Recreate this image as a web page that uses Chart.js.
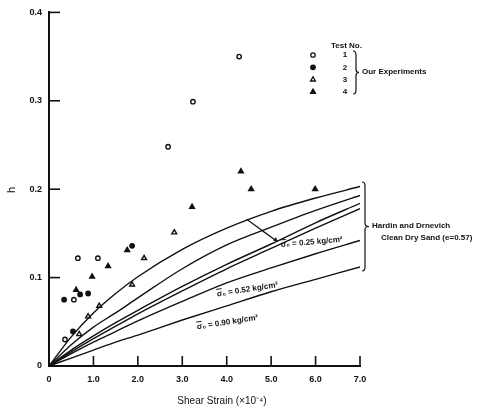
<!DOCTYPE html>
<html>
<head>
<meta charset="utf-8">
<script src="https://cdn.jsdelivr.net/npm/chart.js@4.4.0/dist/chart.umd.min.js"></script>
<style>
    html, body {
        margin: 0;
        padding: 0;
        background: #fff;
    }
</style>
</head>
<body>
<canvas id="dampingChart" width="486" height="408"></canvas>
<script>

    // axis ticks
    const strainTicks = [0, 1, 2, 3, 4, 5, 6, 7];
    const strainTickLabels = ["0", "1.0", "2.0", "3.0", "4.0", "5.0", "6.0", "7.0"];
    const dampingTicks = [0, 0.1, 0.2, 0.3, 0.4];
    const dampingTickLabels = ["0", "0.1", "0.2", "0.3", "0.4"];

    // our experiments, test no. 1 - 4
    const test1Strain = [0.36, 0.56, 0.65, 1.10, 2.68, 3.24, 4.28];
    const test1Damping = [0.030, 0.075, 0.122, 0.122, 0.248, 0.299, 0.350];

    const test2Strain = [0.34, 0.54, 0.70, 0.88, 1.87];
    const test2Damping = [0.075, 0.039, 0.081, 0.082, 0.136];

    const test3Strain = [0.68, 0.88, 1.13, 1.87, 2.14, 2.82];
    const test3Damping = [0.036, 0.056, 0.068, 0.092, 0.122, 0.151];

    const test4Strain = [0.61, 0.97, 1.33, 1.76, 3.22, 4.32, 4.55, 5.99];
    const test4Damping = [0.086, 0.101, 0.113, 0.131, 0.180, 0.220, 0.200, 0.200];

    // Hardin and Drnevich, clean dry sand (e = 0.57)
    const curveStrain = [0, 0.5, 1, 1.5, 2, 3, 4, 5, 6, 7];
    const hdCurve1 = [0, 0.033, 0.060, 0.082, 0.101, 0.132, 0.156, 0.175, 0.190, 0.203];
    const hdCurve2 = [0, 0.024, 0.044, 0.060, 0.077, 0.110, 0.137, 0.157, 0.176, 0.193];
    const hdCurve3 = [0, 0.018, 0.034, 0.049, 0.063, 0.090, 0.115, 0.138, 0.162, 0.184];
    const hdCurve4 = [0, 0.016, 0.031, 0.045, 0.059, 0.085, 0.110, 0.133, 0.156, 0.178];
    const hdCurve5 = [0, 0.014, 0.027, 0.039, 0.051, 0.073, 0.094, 0.111, 0.127, 0.142];
    const hdCurve6 = [0, 0.009, 0.018, 0.027, 0.035, 0.052, 0.068, 0.084, 0.098, 0.112];

    const ink = "#111";
    const noteFont = "bold 8px 'Liberation Sans', Arial, sans-serif";

    function toPoints(xs, ys) {
        return xs.map((x, i) => ({ x: x, y: ys[i] }));
    }

    function markerSet(xs, ys, style, filled, radius) {
        return {
            type: "scatter",
            data: toPoints(xs, ys),
            pointStyle: style,
            pointRadius: radius,
            pointBorderWidth: 1.4,
            pointBorderColor: ink,
            pointBackgroundColor: filled ? ink : "#fff",
            showLine: false
        };
    }

    function curveSet(ys) {
        return {
            type: "line",
            data: toPoints(curveStrain, ys),
            borderColor: ink,
            borderWidth: 1.4,
            pointRadius: 0,
            cubicInterpolationMode: "monotone",
            fill: false
        };
    }

    function brace(ctx, x, top, bottom, tip) {
        const mid = (top + bottom) / 2;
        ctx.beginPath();
        ctx.moveTo(x - 3, top);
        ctx.quadraticCurveTo(x, top, x, top + 4);
        ctx.lineTo(x, mid - 3);
        ctx.quadraticCurveTo(x, mid, x + tip, mid);
        ctx.quadraticCurveTo(x, mid, x, mid + 3);
        ctx.lineTo(x, bottom - 4);
        ctx.quadraticCurveTo(x, bottom, x - 3, bottom);
        ctx.stroke();
    }

    // pressure note: sigma with an overbar, then the value
    function pressureNote(ctx, value, x, y, angle) {
        const text = "σ₀ = " + value + " kg/cm²";
        const barWidth = ctx.measureText("σ").width;
        ctx.save();
        ctx.translate(x, y);
        ctx.rotate(angle * Math.PI / 180);
        ctx.fillText(text, 0, 0);
        ctx.lineWidth = 0.9;
        ctx.beginPath();
        ctx.moveTo(0, -5);
        ctx.lineTo(barWidth, -5);
        ctx.stroke();
        ctx.restore();
    }

    // inward ticks, axis titles, legend and curve notes
    const annotations = {
        id: "annotations",
        afterDraw(chart) {
            const ctx = chart.ctx;
            const xs = chart.scales.x;
            const ys = chart.scales.y;
            const area = chart.chartArea;

            ctx.save();
            ctx.strokeStyle = ink;
            ctx.fillStyle = ink;
            ctx.lineWidth = 1.6;

            strainTicks.forEach(v => {
                const px = xs.getPixelForValue(v);
                ctx.beginPath();
                ctx.moveTo(px, area.bottom);
                ctx.lineTo(px, area.bottom - 10);
                ctx.stroke();
            });

            dampingTicks.forEach(v => {
                const py = ys.getPixelForValue(v);
                ctx.beginPath();
                ctx.moveTo(area.left, py);
                ctx.lineTo(area.left + 11, py);
                ctx.stroke();
            });

            // axis titles
            ctx.font = "10px 'Liberation Sans', Arial, sans-serif";
            ctx.textAlign = "center";
            ctx.textBaseline = "middle";
            ctx.fillText("Shear Strain (×10⁻⁴)", 222, 401);

            ctx.save();
            ctx.translate(12, 190);
            ctx.rotate(-Math.PI / 2);
            ctx.font = "11px 'Liberation Sans', Arial, sans-serif";
            ctx.fillText("h", 0, 0);
            ctx.restore();

            // legend
            ctx.font = noteFont;
            ctx.textAlign = "left";
            ctx.fillText("Test No.", 331, 46);

            const legendRows = [
                ["circle", false, 2.2, "1"],
                ["circle", true, 2.2, "2"],
                ["triangle", false, 2.8, "3"],
                ["triangle", true, 2.8, "4"]
            ];

            legendRows.forEach((row, i) => {
                const py = 55 + i * 12.3;
                ctx.fillStyle = row[1] ? ink : "#fff";
                ctx.lineWidth = 1.3;
                Chart.helpers.drawPoint(ctx, {
                    pointStyle: row[0],
                    radius: row[2],
                    borderWidth: 1.3
                }, 313, py);
                if (row[1]) {
                    ctx.fill();
                }
                ctx.fillStyle = ink;
                ctx.textAlign = "center";
                ctx.fillText(row[3], 345, py);
            });

            ctx.lineWidth = 1.2;
            brace(ctx, 356, 51, 94, 3);
            ctx.textAlign = "left";
            ctx.fillText("Our Experiments", 362, 72);

            // Hardin and Drnevich bracket
            brace(ctx, 365, 182, 271, 4);
            ctx.fillText("Hardin and Drnevich", 372, 226);
            ctx.fillText("Clean Dry Sand (e=0.57)", 381, 238);

            // leader to the 0.25 curves
            const tipX = xs.getPixelForValue(5.13);
            const tipY = ys.getPixelForValue(0.141);
            ctx.lineWidth = 1.2;
            ctx.beginPath();
            ctx.moveTo(xs.getPixelForValue(4.45), ys.getPixelForValue(0.166));
            ctx.lineTo(tipX, tipY);
            ctx.moveTo(xs.getPixelForValue(4.80), ys.getPixelForValue(0.153));
            ctx.lineTo(tipX, tipY);
            ctx.stroke();
            ctx.beginPath();
            ctx.moveTo(tipX + 1, tipY + 1);
            ctx.lineTo(tipX - 4, tipY - 1);
            ctx.lineTo(tipX - 1, tipY - 4);
            ctx.closePath();
            ctx.fill();

            ctx.textBaseline = "middle";
            pressureNote(ctx, "0.25",
                xs.getPixelForValue(5.22), ys.getPixelForValue(0.137), -5);
            pressureNote(ctx, "0.52",
                xs.getPixelForValue(3.78), ys.getPixelForValue(0.081), -9);
            pressureNote(ctx, "0.90",
                xs.getPixelForValue(3.33), ys.getPixelForValue(0.044), -9);

            ctx.restore();
        }
    };

    new Chart(document.getElementById("dampingChart"), {
        data: {
            datasets: [
                curveSet(hdCurve1),
                curveSet(hdCurve2),
                curveSet(hdCurve3),
                curveSet(hdCurve4),
                curveSet(hdCurve5),
                curveSet(hdCurve6),
                markerSet(test1Strain, test1Damping, "circle", false, 2.2),
                markerSet(test2Strain, test2Damping, "circle", true, 2.2),
                markerSet(test3Strain, test3Damping, "triangle", false, 2.8),
                markerSet(test4Strain, test4Damping, "triangle", true, 2.8)
            ]
        },
        options: {
            responsive: false,
            animation: false,
            devicePixelRatio: 1,
            layout: {
                padding: { top: 11, right: 126, left: 0, bottom: 0 }
            },
            plugins: {
                legend: { display: false },
                tooltip: { enabled: false }
            },
            scales: {
                x: {
                    type: "linear",
                    min: 0,
                    max: 7,
                    afterBuildTicks: scale => {
                        scale.ticks = strainTicks.map(v => ({ value: v }));
                    },
                    afterFit: scale => {
                        scale.height = 42;
                    },
                    grid: { display: false, drawTicks: false },
                    border: { display: true, color: ink, width: 2 },
                    ticks: {
                        padding: 8,
                        color: ink,
                        font: { family: "'Liberation Sans', Arial, sans-serif", size: 9, weight: "bold" },
                        callback: (value, index) => strainTickLabels[index]
                    }
                },
                y: {
                    type: "linear",
                    min: 0,
                    max: 0.4,
                    afterBuildTicks: scale => {
                        scale.ticks = dampingTicks.map(v => ({ value: v }));
                    },
                    afterFit: scale => {
                        scale.width = 49;
                    },
                    grid: { display: false, drawTicks: false },
                    border: { display: true, color: ink, width: 2 },
                    ticks: {
                        padding: 7,
                        color: ink,
                        font: { family: "'Liberation Sans', Arial, sans-serif", size: 9, weight: "bold" },
                        callback: (value, index) => dampingTickLabels[index]
                    }
                }
            }
        },
        plugins: [annotations]
    });

</script>
</body>
</html>
